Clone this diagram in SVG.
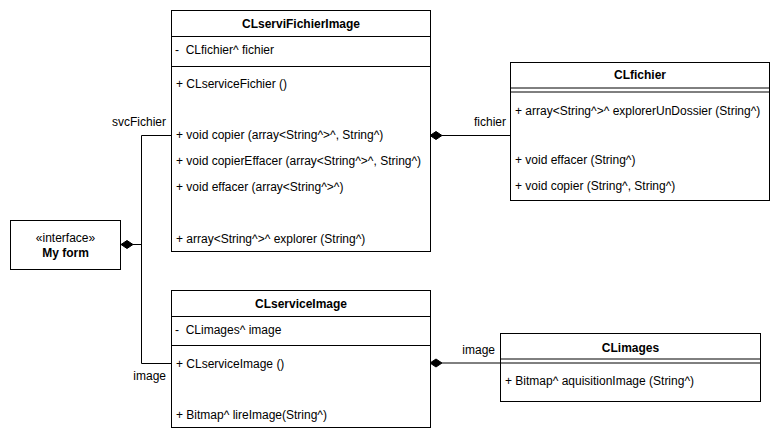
<svg xmlns="http://www.w3.org/2000/svg" width="782" height="442" viewBox="0 0 782 442">
<style>
text{font-family:"Liberation Sans",Arial,sans-serif;font-size:12px;fill:#000;white-space:pre}
.h{font-weight:bold;text-anchor:middle}
.c{text-anchor:middle}
.r{text-anchor:end}
.box{fill:#fff;stroke:#000;stroke-width:1}
line,polyline{stroke:#000;stroke-width:1;fill:none}
.d{fill:#000;stroke:#000}
</style>
<rect width="782" height="442" fill="#fff"/>
<g id="connectors">
<polyline points="171,135.5 141.5,135.5 141.5,363.5 171,363.5"/>
<line x1="133" y1="244.5" x2="141.5" y2="244.5"/>
<polygon class="d" points="121,244.5 127,240.5 133,244.5 127,248.5"/>
<line x1="442" y1="135.5" x2="510" y2="135.5"/>
<polygon class="d" points="430,135.5 436,131.5 442,135.5 436,139.5"/>
<line x1="442" y1="363" x2="500" y2="363"/>
<polygon class="d" points="430,363 436,359 442,363 436,367"/>
<text class="r" x="166" y="126">svcFichier</text>
<text class="r" x="166" y="380">image</text>
<text class="r" x="506" y="126">fichier</text>
<text class="r" x="495" y="354">image</text>
</g>
<g id="CLserviFichierImage">
<rect class="box" x="171.5" y="10.5" width="259" height="241"/>
<line x1="171.5" y1="36.5" x2="430.5" y2="36.5"/>
<line x1="171.5" y1="66.5" x2="430.5" y2="66.5"/>
<text class="h" x="301" y="28">CLserviFichierImage</text>
<text x="175" y="54">-  CLfichier^ fichier</text>
<text x="176" y="88">+ CLserviceFichier ()</text>
<text x="176" y="139">+ void copier (array&lt;String^&gt;^, String^)</text>
<text x="176" y="165">+ void copierEffacer (array&lt;String^&gt;^, String^)</text>
<text x="176" y="191">+ void effacer (array&lt;String^&gt;^)</text>
<text x="176" y="243">+ array&lt;String^&gt;^ explorer (String^)</text>
</g>
<g id="CLfichier">
<rect class="box" x="510.5" y="62.5" width="259" height="138"/>
<line x1="510.5" y1="88" x2="769.5" y2="88"/>
<line x1="510.5" y1="92" x2="769.5" y2="92"/>
<text class="h" x="640" y="79">CLfichier</text>
<text x="515" y="115">+ array&lt;String^&gt;^ explorerUnDossier (String^)</text>
<text x="515" y="164">+ void effacer (String^)</text>
<text x="515" y="190">+ void copier (String^, String^)</text>
</g>
<g id="MyForm">
<rect class="box" x="10.5" y="220.5" width="110" height="49"/>
<text class="c" x="65.5" y="242">«interface»</text>
<text class="h" x="65.5" y="257">My form</text>
</g>
<g id="CLserviceImage">
<rect class="box" x="171.5" y="290.5" width="259" height="137"/>
<line x1="171.5" y1="316.5" x2="430.5" y2="316.5"/>
<line x1="171.5" y1="345.5" x2="430.5" y2="345.5"/>
<text class="h" x="301" y="308">CLserviceImage</text>
<text x="175" y="334">-  CLimages^ image</text>
<text x="176" y="368">+ CLserviceImage ()</text>
<text x="176" y="419">+ Bitmap^ lireImage(String^)</text>
</g>
<g id="CLimages">
<rect class="box" x="500.5" y="333.5" width="260" height="68"/>
<line x1="500.5" y1="359" x2="760.5" y2="359"/>
<line x1="500.5" y1="363" x2="760.5" y2="363"/>
<text class="h" x="630.5" y="352">CLimages</text>
<text x="505" y="385">+ Bitmap^ aquisitionImage (String^)</text>
</g>
</svg>
